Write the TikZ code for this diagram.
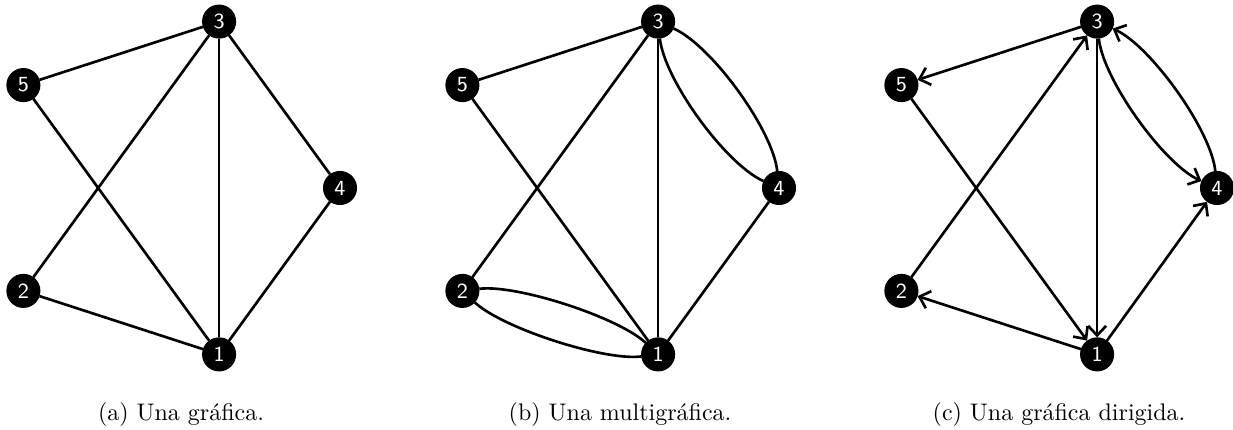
\documentclass[tikz,border=0pt]{standalone}
\usepackage{amssymb}
\usetikzlibrary{arrows.meta}
\pgfdeclarelayer{edgelayer}
\pgfdeclarelayer{nodelayer}
\pgfsetlayers{edgelayer,nodelayer,main}
\tikzstyle{edge}=[draw=black, line width=1.1pt]
\tikzstyle{arc}=[draw=black, line width=1.1pt, -{Straight Barb[length=4pt,width=7.5pt]}]
\tikzstyle{vertex}=[circle, fill=black, draw=black, text=white, inner sep=0pt, minimum size=13.8pt, font=\sffamily\small]
\tikzstyle{caption}=[anchor=base, font=\normalsize]

\begin{document}
\begin{tikzpicture}[x=0.417pt, y=0.417pt]
			\useasboundingbox (0, 0) rectangle (1233, 430);
			\begin{pgfonlayer}{nodelayer}
			% (a)
			\node [style=vertex] (a1) at (219.1, 75.6) {1};
			\node [style=vertex] (a2) at (23.4, 139.1) {2};
			\node [style=vertex] (a3) at (219.1, 408.4) {3};
			\node [style=vertex] (a4) at (340, 242) {4};
			\node [style=vertex] (a5) at (23.4, 344.9) {5};
			% (b)
			\node [style=vertex] (b1) at (658.1, 75.6) {1};
			\node [style=vertex] (b2) at (462.4, 139.1) {2};
			\node [style=vertex] (b3) at (658.1, 408.4) {3};
			\node [style=vertex] (b4) at (779, 242) {4};
			\node [style=vertex] (b5) at (462.4, 344.9) {5};
			% (c)
			\node [style=vertex] (c1) at (1097.1, 75.6) {1};
			\node [style=vertex] (c2) at (901.4, 139.1) {2};
			\node [style=vertex] (c3) at (1097.1, 408.4) {3};
			\node [style=vertex] (c4) at (1217, 242) {4};
			\node [style=vertex] (c5) at (901.4, 344.9) {5};
			\node [style=caption] (capa) at (181, 9) {(a) Una gráfica.};
			\node [style=caption] (capb) at (620, 9) {(b) Una multigráfica.};
			\node [style=caption] (capc) at (1059, 9) {(c) Una gráfica dirigida.};
			\end{pgfonlayer}
			\begin{pgfonlayer}{edgelayer}
			\draw [style=edge] (a3) to (a5);
			\draw [style=edge] (a3) to (a2);
			\draw [style=edge] (a3) to (a1);
			\draw [style=edge] (a3) to (a4);
			\draw [style=edge] (a5) to (a1);
			\draw [style=edge] (a2) to (a1);
			\draw [style=edge] (a4) to (a1);
			\draw [style=edge] (b3) to (b5);
			\draw [style=edge] (b3) to (b2);
			\draw [style=edge] (b3) to (b1);
			\draw [style=edge, bend left=30, looseness=0.60] (b3) to (b4);
			\draw [style=edge, bend right=30, looseness=0.60] (b3) to (b4);
			\draw [style=edge] (b5) to (b1);
			\draw [style=edge, bend left=25, looseness=0.55] (b2) to (b1);
			\draw [style=edge, bend right=25, looseness=0.55] (b2) to (b1);
			\draw [style=edge] (b4) to (b1);
			\draw [style=arc] (c3) to (c5);
			\draw [style=arc] (c2) to (c3);
			\draw [style=arc] (c3) to (c1);
			\draw [style=arc, bend right=30, looseness=0.60] (c3) to (c4);
			\draw [style=arc, bend right=30, looseness=0.60] (c4) to (c3);
			\draw [style=arc] (c5) to (c1);
			\draw [style=arc] (c1) to (c2);
			\draw [style=arc] (c1) to (c4);
			\end{pgfonlayer}
			\end{tikzpicture}
\end{document}
